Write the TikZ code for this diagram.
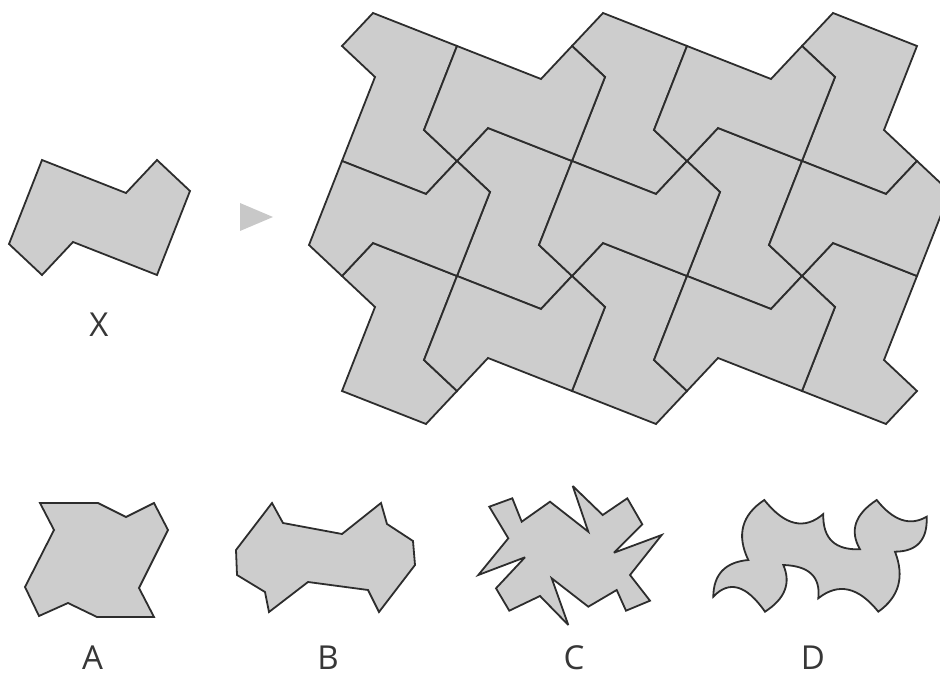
\documentclass[tikz,border=0pt]{standalone}
\usepackage{fontspec}
\setmainfont{Open Sans}
\definecolor{tilefill}{RGB}{205,205,205}
\definecolor{edgecol}{RGB}{45,45,45}
\definecolor{labelcol}{RGB}{55,55,55}
\definecolor{arrowgray}{RGB}{200,200,200}
\tikzset{
  shapebox/.style={fill=tilefill, draw=edgecol, line width=1.8pt, line join=miter, miter limit=4},
  lab/.style={anchor=base, text=labelcol, font=\fontsize{33}{40}\selectfont, inner sep=0pt},
  xtile/.pic={\path[shapebox] (0,0) -- ++(84,33) -- ++(31,-33) -- ++(33,31) -- ++(-33,84)
      -- ++(-84,-33) -- ++(-31,33) -- ++(-33,-31) -- cycle;},
  rtile/.pic={\path[shapebox] (0,0) -- ++(84,33) -- ++(-33,84) -- ++(33,31) -- ++(-31,33)
      -- ++(-84,-33) -- ++(33,-84) -- ++(-33,-31) -- cycle;}
}
\begin{document}
\begin{tikzpicture}[x=1pt,y=-1pt]
\useasboundingbox (0,0) rectangle (940,684);
% the shape X
\pic at (42,160) {xtile};
\node[lab] (labX) at (99,337) {X};
% arrow
\path[fill=arrowgray] (240,203) -- (273,217) -- (240,231) -- cycle;
% tiling
\begin{scope}
\clip (0,0) rectangle (940,684);
\foreach \p in {(373,13),(603,13),(833,13),(488,128),(718,128),(373,243),(603,243),(833,243)}
  \pic at \p {rtile};
\foreach \p in {(457,46),(687,46),(342,161),(572,161),(802,161),(457,276),(687,276)}
  \pic at \p {xtile};
\end{scope}
% option A
\path[shapebox] (40,503) -- (98,503) -- (126,517) -- (154,503) -- (168,530) -- (139,588)
  -- (154,617) -- (97,617) -- (68,603) -- (39,616) -- (25,587) -- (54,530) -- cycle;
% option B
\path[shapebox] (272,503) -- (283,523) -- (342,534) -- (381,503) -- (387,524) -- (413,541)
  -- (415,565) -- (379,612) -- (368,590) -- (308,582) -- (269,612) -- (265,592)
  -- (237,575) -- (236,550) -- cycle;
% option C
\path[shapebox] (489.3,506.7) -- (512.3,498.3) -- (521.7,521.7) -- (550,501.7) -- (588.3,531.7)
  -- (572.7,486) -- (602.7,515) -- (627.3,498.3) -- (642.3,524.3) -- (614,552.7)
  -- (661.7,535) -- (630,575) -- (650,600.7) -- (626,610.7) -- (616.7,590)
  -- (588.3,606.7) -- (551.7,578.3) -- (568.3,625) -- (540,596) -- (509.3,610.7)
  -- (496,588.3) -- (525,557.3) -- (478.3,575) -- (508.3,538.3) -- cycle;
% option D
\path[shapebox] (764.3,500) .. controls (784.8,525.7) and (804.4,530.3) .. (823.3,514)
  .. controls (822.6,538.5) and (834.9,550.2) .. (860,549.3)
  .. controls (849.3,530.8) and (854.8,514.3) .. (876.7,500)
  .. controls (893.4,520.9) and (910,526.4) .. (926.7,516.7)
  .. controls (927.6,539.9) and (917.1,551.5) .. (895,551.7)
  .. controls (904.7,576.8) and (899.2,596.8) .. (878.3,611.7)
  .. controls (858.3,586.8) and (838.3,582.4) .. (818.3,598.3)
  .. controls (820.7,576.9) and (809.1,565.8) .. (783.3,565)
  .. controls (791.2,583.2) and (785.1,598.7) .. (765,611.7)
  .. controls (746.4,584.9) and (729.1,579.9) .. (713.3,596.7)
  .. controls (713.5,574.4) and (725.1,562.1) .. (748.3,560)
  .. controls (736.3,534.9) and (741.7,514.9) .. cycle;
% labels
\node[lab] (labA) at (92.5,669) {A};
\node[lab] (labB) at (328,669) {B};
\node[lab] (labC) at (574,669) {C};
\node[lab] (labD) at (813,669) {D};
\end{tikzpicture}
\end{document}
